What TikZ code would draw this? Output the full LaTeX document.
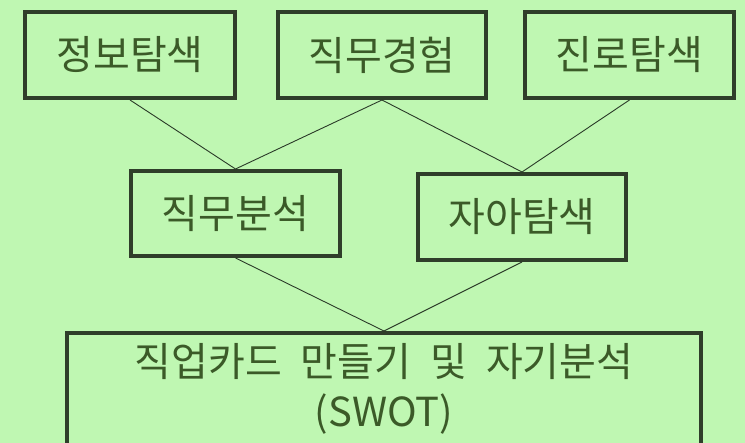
\documentclass[tikz,border=0pt]{standalone}
\usepackage{fontspec}
\setmainfont{Noto Sans CJK KR}
\definecolor{bg}{HTML}{BFF7B2}
\definecolor{txt}{HTML}{3B5A28}
\definecolor{bord}{HTML}{2F3E2A}
\definecolor{ln}{HTML}{2A3A28}
\tikzset{
  box/.style={draw=bord, line width=4pt, rectangle, text=txt, font=\fontsize{40pt}{50pt}\selectfont, align=center, inner sep=0pt},
  link/.style={draw=ln, line width=0.9pt}
}
\begin{document}
\begin{tikzpicture}[x=1pt,y=-1pt]
\fill[bg] (0,0) rectangle (745,443);
\useasboundingbox (0,0) rectangle (745,443);
\node[box, minimum width=210pt, minimum height=86pt] (a) at (130,55) {정보탐색};
\node[box, minimum width=208pt, minimum height=86pt] (b) at (382,55) {직무경험};
\node[box, minimum width=209pt, minimum height=86pt] (c) at (629.5,55) {진로탐색};
\node[box, minimum width=209pt, minimum height=85pt] (d) at (235.5,213.5) {직무분석};
\node[box, minimum width=208pt, minimum height=86pt] (e) at (522,217) {자아탐색};
\node[box, minimum width=634pt, minimum height=112pt] (f) at (384,389) {직업카드\hspace{10pt} 만들기\hspace{10pt} 및\hspace{10pt} 자기분석\\(SWOT)};
\draw[link] (a.south) -- (d.north);
\draw[link] (b.south) -- (d.north);
\draw[link] (b.south) -- (e.north);
\draw[link] (c.south) -- (e.north);
\draw[link] (d.south) -- (f.north);
\draw[link] (e.south) -- (f.north);
\end{tikzpicture}
\end{document}
